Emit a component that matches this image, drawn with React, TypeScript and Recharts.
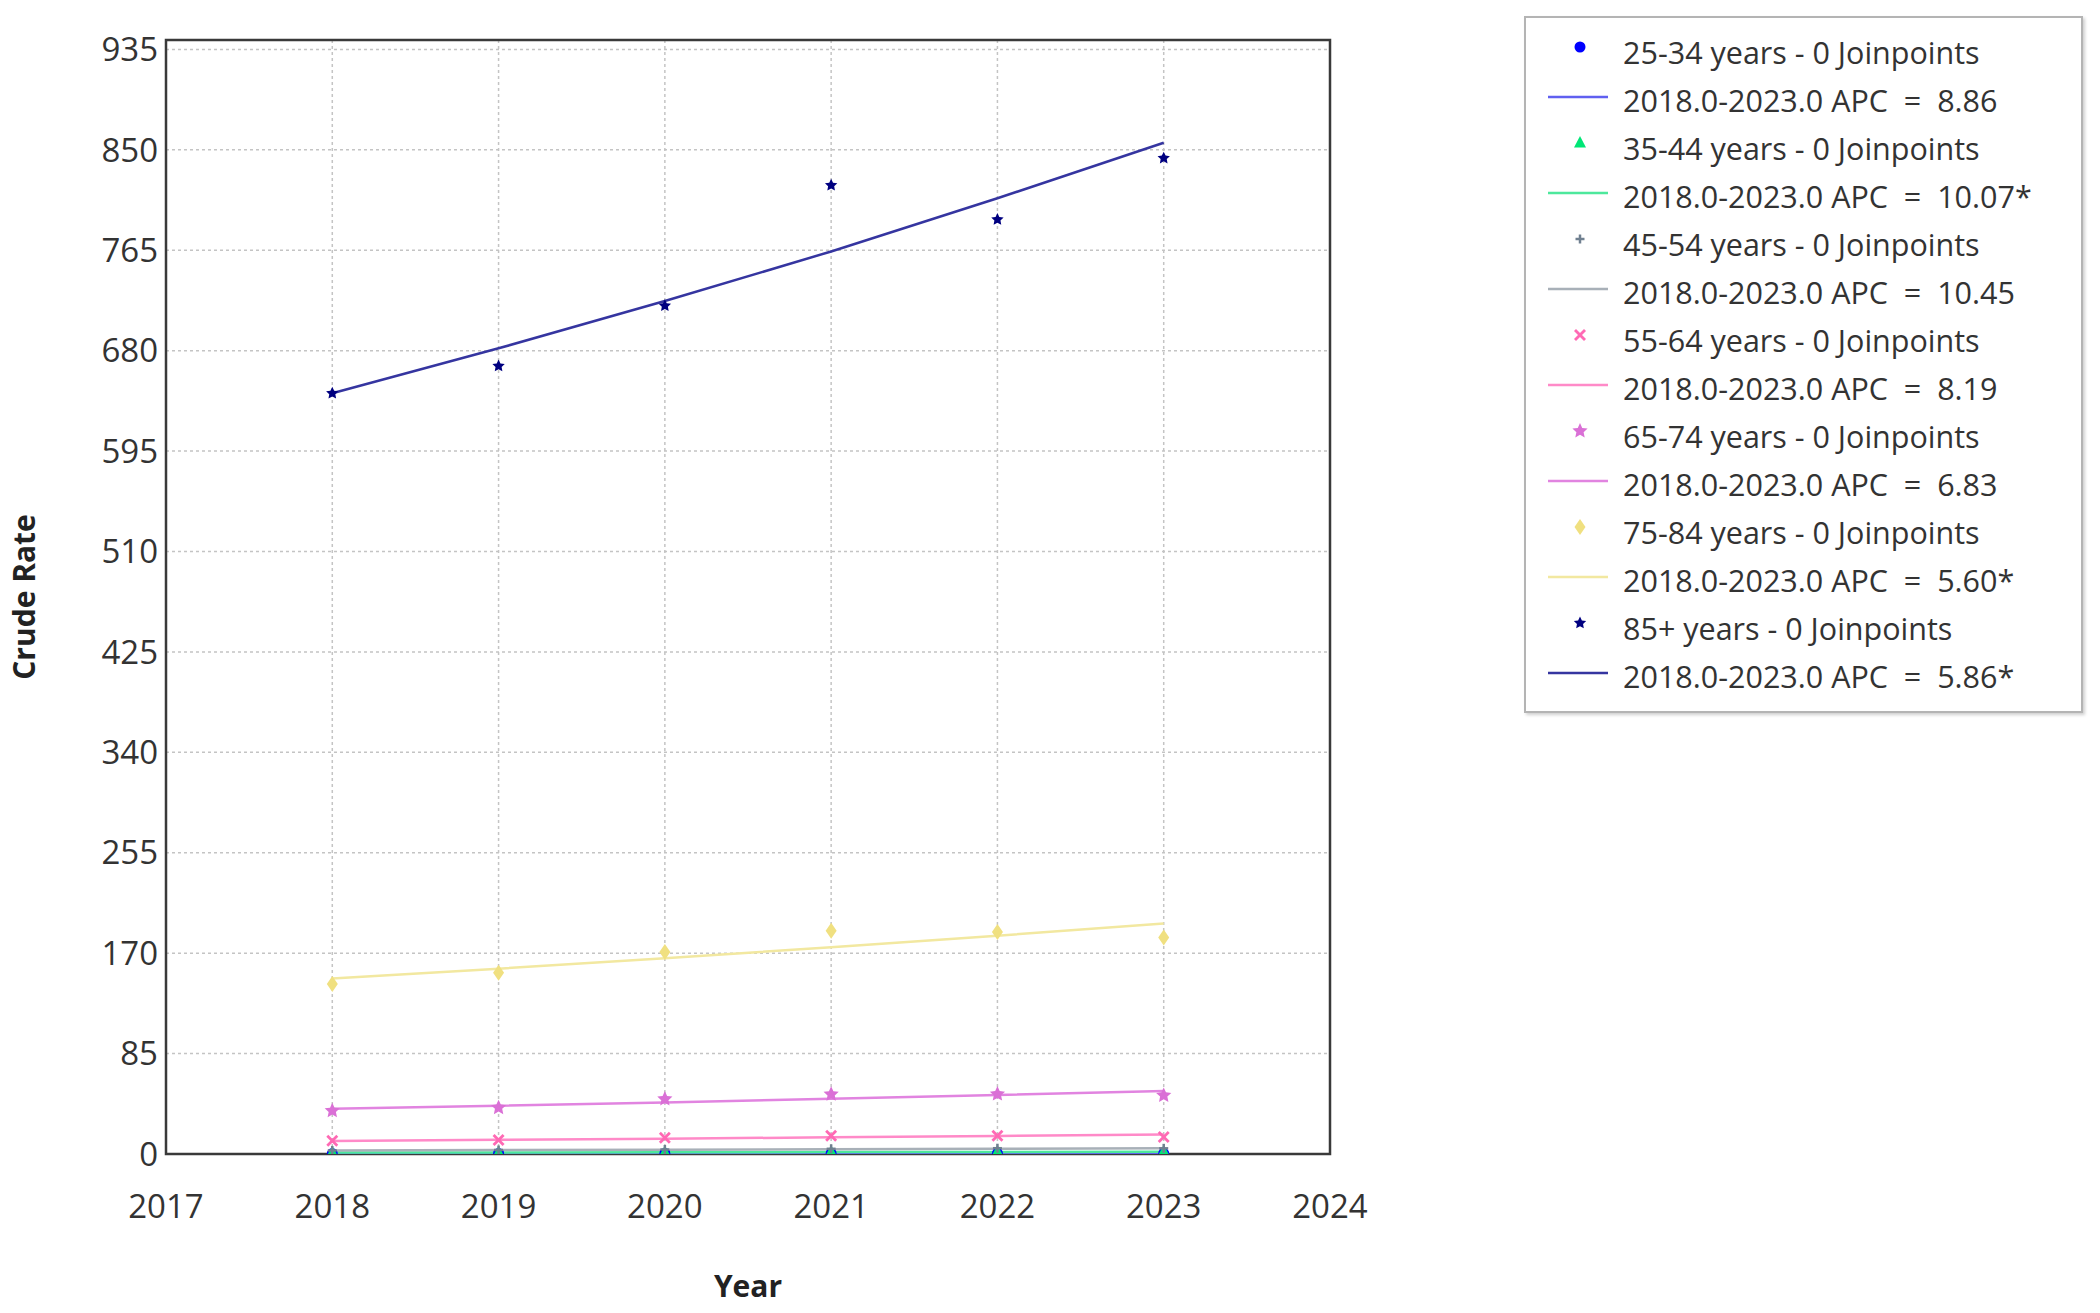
import React from 'react'
import {
  ComposedChart,
  Line,
  XAxis,
  YAxis,
  CartesianGrid,
  ReferenceArea,
} from 'recharts'

const years = [2018, 2019, 2020, 2021, 2022, 2023]
const xTicks = [2017, 2018, 2019, 2020, 2021, 2022, 2023, 2024]
const yTicks = [0, 85, 170, 255, 340, 425, 510, 595, 680, 765, 850, 935]

// observed crude rates
const obs2534 = [0.4, 0.5, 0.5, 0.6, 0.6, 0.6]
const obs3544 = [1.2, 1.3, 1.5, 1.7, 1.8, 2.0]
const obs4554 = [3.0, 3.4, 3.8, 4.4, 4.9, 4.8]
const obs5564 = [11.3, 11.8, 13.8, 15.5, 15.5, 14.4]
const obs6574 = [36.6, 39.2, 46.5, 50.5, 50.7, 49.6]
const obs7584 = [143.8, 153.4, 170.9, 188.9, 188.0, 183.3]
const obs85 = [644, 667, 718, 820, 791, 843]

// fitted joinpoint trends
const fit2534 = [0.4, 0.44, 0.47, 0.52, 0.56, 0.61]
const fit3544 = [1.2, 1.3, 1.45, 1.6, 1.75, 1.95]
const fit4554 = [3.0, 3.3, 3.65, 4.0, 4.45, 4.9]
const fit5564 = [11.1, 12.0, 13.0, 14.1, 15.2, 16.5]
const fit6574 = [38.3, 40.9, 43.7, 46.7, 49.9, 53.3]
const fit7584 = [148.6, 156.9, 165.7, 175.0, 184.8, 195.2]
const fit85 = [644, 682, 722, 764, 809, 856]

type Shape = 'circle' | 'triangle' | 'plus' | 'cross' | 'star' | 'diamond' | 'smallstar'

const SERIES: {
  key: string
  label: string
  apc: string
  obs: number[]
  fit: number[]
  dot: string
  line: string
  shape: Shape
}[] = [
  { key: 'a', label: '25-34 years - 0 Joinpoints', apc: '8.86', obs: obs2534, fit: fit2534, dot: '#0000ff', line: '#6060f0', shape: 'circle' },
  { key: 'b', label: '35-44 years - 0 Joinpoints', apc: '10.07*', obs: obs3544, fit: fit3544, dot: '#00e676', line: '#4de89c', shape: 'triangle' },
  { key: 'c', label: '45-54 years - 0 Joinpoints', apc: '10.45', obs: obs4554, fit: fit4554, dot: '#708090', line: '#a8b0b8', shape: 'plus' },
  { key: 'd', label: '55-64 years - 0 Joinpoints', apc: '8.19', obs: obs5564, fit: fit5564, dot: '#ff69b4', line: '#ff8ac8', shape: 'cross' },
  { key: 'e', label: '65-74 years - 0 Joinpoints', apc: '6.83', obs: obs6574, fit: fit6574, dot: '#da70d6', line: '#e184e0', shape: 'star' },
  { key: 'f', label: '75-84 years - 0 Joinpoints', apc: '5.60*', obs: obs7584, fit: fit7584, dot: '#f0e080', line: '#f2e8a0', shape: 'diamond' },
  { key: 'g', label: '85+ years - 0 Joinpoints', apc: '5.86*', obs: obs85, fit: fit85, dot: '#000080', line: '#3535a0', shape: 'smallstar' },
]

const rows = years.map((year, i) => {
  const r: Record<string, number> = { year }
  SERIES.forEach(s => {
    r['p_' + s.key] = s.obs[i]
    r['t_' + s.key] = s.fit[i]
  })
  return r
})

function starPoints(cx: number, cy: number, ro: number, ri: number, n: number) {
  const pts: string[] = []
  for (let k = 0; k < n * 2; k++) {
    const r = k % 2 === 0 ? ro : ri
    const a = -Math.PI / 2 + (k * Math.PI) / n
    pts.push(`${cx + r * Math.cos(a)},${cy + r * Math.sin(a)}`)
  }
  return pts.join(' ')
}

function Marker({ cx, cy, shape, color }: { cx: number; cy: number; shape: Shape; color: string }) {
  switch (shape) {
    case 'circle':
      return <circle cx={cx} cy={cy} r={5.5} fill={color} />
    case 'triangle':
      return <polygon points={`${cx},${cy - 7} ${cx + 6},${cy + 4.5} ${cx - 6},${cy + 4.5}`} fill={color} />
    case 'plus':
      return (
        <g stroke={color} strokeWidth={2.5}>
          <line x1={cx - 4.5} y1={cy} x2={cx + 4.5} y2={cy} />
          <line x1={cx} y1={cy - 4.5} x2={cx} y2={cy + 4.5} />
        </g>
      )
    case 'cross':
      return (
        <g stroke={color} strokeWidth={2.8}>
          <line x1={cx - 5} y1={cy - 5} x2={cx + 5} y2={cy + 5} />
          <line x1={cx - 5} y1={cy + 5} x2={cx + 5} y2={cy - 5} />
        </g>
      )
    case 'star':
      return <polygon points={starPoints(cx, cy, 8, 3.8, 5)} fill={color} />
    case 'diamond':
      return <polygon points={`${cx},${cy - 8} ${cx + 5.5},${cy} ${cx},${cy + 8} ${cx - 5.5},${cy}`} fill={color} />
    default:
      return <polygon points={starPoints(cx, cy, 6.5, 3.2, 5)} fill={color} />
  }
}

const FONT = '"Open Sans", "Noto Sans", sans-serif'

function LegendBox() {
  const items: { text: string; color: string; kind: 'mark' | 'line'; shape?: Shape }[] = []
  SERIES.forEach(s => {
    items.push({ text: s.label, color: s.dot, kind: 'mark', shape: s.shape })
    items.push({ text: `2018.0-2023.0 APC  =  ${s.apc}`, color: s.line, kind: 'line' })
  })
  return (
    <div
      style={{
        position: 'absolute', left: 1524, top: 16, width: 559, height: 697, boxSizing: 'border-box',
        border: '2px solid #b4b4b4', boxShadow: '2px 2px 3px #d0d0d0', background: '#fff',
        paddingTop: 10, fontFamily: FONT,
      }}
    >
      {items.map((it, i) => (
        <div key={i} style={{ height: 48, display: 'flex', alignItems: 'center' }}>
          <svg width={97} height={48} style={{ flexShrink: 0 }}>
            {it.kind === 'mark' ? (
              <Marker cx={54} cy={19} shape={it.shape!} color={it.color} />
            ) : (
              <line x1={22} x2={82} y1={21} y2={21} stroke={it.color} strokeWidth={2.5} />
            )}
          </svg>
          <span style={{ fontSize: 30.5, color: '#333', whiteSpace: 'pre' }}>{it.text}</span>
        </div>
      ))}
    </div>
  )
}

export default function App() {
  return (
    <div style={{ position: 'absolute', left: 0, top: 0, width: 2100, height: 1313, background: '#fff' }}>
      <ComposedChart
        width={2100}
        height={1313}
        data={rows}
        margin={{ top: 40, right: 770, bottom: 0, left: 0 }}
        style={{ fontFamily: FONT }}
      >
        <CartesianGrid stroke="#c4c4c4" strokeDasharray="3 3" strokeWidth={1.5} />
        <XAxis
          dataKey="year"
          type="number"
          domain={[2017, 2024]}
          ticks={xTicks}
          allowDataOverflow
          axisLine={false}
          tickLine={false}
          tickSize={6}
          tickMargin={35}
          height={159}
          tick={{ fontSize: 33, fill: '#333' }}
          label={{ value: 'Year', position: 'insideBottom', offset: 16, style: { fontSize: 30, fontWeight: 700, fill: '#222' } }}
        />
        <YAxis
          type="number"
          domain={[0, 943]}
          ticks={yTicks}
          allowDataOverflow
          axisLine={false}
          tickLine={false}
          tickSize={6}
          tickMargin={2}
          width={166}
          tick={{ fontSize: 33, fill: '#333' }}
          label={{ value: 'Crude Rate', angle: -90, position: 'insideLeft', offset: 24, style: { fontSize: 30, fontWeight: 700, fill: '#222', textAnchor: 'middle' } }}
        />
        <ReferenceArea x1={2017} x2={2024} y1={0} y2={943} fill="none" stroke="#3a3a3a" strokeWidth={2.5} />
        {SERIES.map(s => (
          <Line
            key={'t_' + s.key}
            dataKey={'t_' + s.key}
            type="linear"
            stroke={s.line}
            strokeWidth={2.5}
            dot={false}
            activeDot={false}
            isAnimationActive={false}
          />
        ))}
        {SERIES.map(s => (
          <Line
            key={'p_' + s.key}
            dataKey={'p_' + s.key}
            type="linear"
            stroke="none"
            activeDot={false}
            isAnimationActive={false}
            dot={(p: any) => <Marker key={p.key ?? p.index} cx={p.cx} cy={p.cy} shape={s.shape} color={s.dot} />}
          />
        ))}
      </ComposedChart>
      <LegendBox />
    </div>
  )
}
